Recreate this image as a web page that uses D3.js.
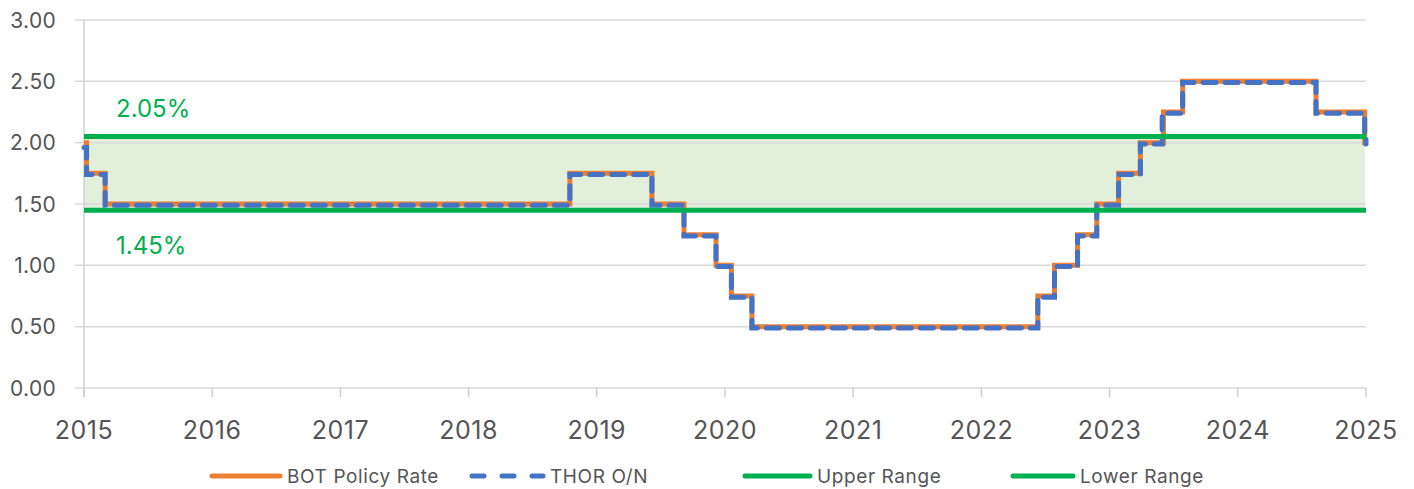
<!DOCTYPE html>
<html>
<head>
<meta charset="utf-8">
<script src="https://cdn.jsdelivr.net/npm/d3@7"></script>
<style>
  body { margin: 0; background: #fff; }
  svg { display: block; font-family: Inter, "Noto Sans", sans-serif; }
</style>
</head>
<body>
<svg id="chart" width="1414" height="489"></svg>
<script>
// step dates (decimal years), rate in %
const policyDates = [2015.0, 2015.02, 2015.165, 2018.79, 2019.43, 2019.68, 2019.93, 2020.05, 2020.21, 2022.44, 2022.57, 2022.75, 2022.90, 2023.07, 2023.24, 2023.42, 2023.57, 2024.61, 2024.99, 2025.0]
const policyRates = [2.00, 1.75, 1.50, 1.75, 1.50, 1.25, 1.00, 0.75, 0.50, 0.75, 1.00, 1.25, 1.50, 1.75, 2.00, 2.25, 2.50, 2.25, 2.00, 2.00]
const thorDates = [2015.0, 2015.02, 2015.165, 2018.79, 2019.43, 2019.68, 2019.93, 2020.05, 2020.21, 2022.44, 2022.57, 2022.75, 2022.90, 2023.07, 2023.24, 2023.41, 2023.57, 2024.61, 2024.99, 2025.0]
const thorRates = [1.96, 1.74, 1.49, 1.74, 1.49, 1.24, 0.99, 0.74, 0.49, 0.74, 0.99, 1.24, 1.49, 1.74, 1.99, 2.24, 2.49, 2.24, 2.05, 1.99]
const upperRange = 2.05
const lowerRange = 1.45
const yTicks = [0, 0.5, 1, 1.5, 2, 2.5, 3]
const yearTicks = [2015, 2016, 2017, 2018, 2019, 2020, 2021, 2022, 2023, 2024, 2025]
const legendNames = ['BOT Policy Rate', 'THOR O/N', 'Upper Range', 'Lower Range']

const orange = '#ed7d31', blue = '#4472c4', green = '#00b050'

const svg = d3.select('#chart')
const x = d3.scaleLinear().domain([2015, 2025]).range([84, 1366])
const y = d3.scaleLinear().domain([0, 3]).range([388, 20])

// shaded band between the range lines
svg.append('rect')
    .attr('x', x(2015)).attr('width', x(2025) - x(2015) - 1)
    .attr('y', y(upperRange)).attr('height', y(lowerRange) - y(upperRange))
    .attr('fill', '#e2efda')

// gridlines
svg.append('g')
    .selectAll('line')
    .data(yTicks)
    .join('line')
    .attr('x1', 75).attr('x2', x(2025))
    .attr('y1', d => y(d)).attr('y2', d => y(d))
    .attr('stroke', '#d9d9d9').attr('stroke-width', 1.5)

// y labels
svg.append('g')
    .selectAll('text')
    .data(yTicks)
    .join('text')
    .attr('x', 56).attr('y', d => y(d))
    .attr('dy', '0.36em')
    .attr('text-anchor', 'end')
    .attr('font-size', 21)
    .attr('letter-spacing', 0.3)
    .attr('fill', '#555')
    .text(d => d.toFixed(2))

// vertical axis + year ticks
svg.append('line')
    .attr('x1', x(2015)).attr('x2', x(2015))
    .attr('y1', y(3)).attr('y2', 397)
    .attr('stroke', '#d0d0d0').attr('stroke-width', 1.5)
svg.append('g')
    .selectAll('line')
    .data(yearTicks)
    .join('line')
    .attr('x1', d => x(d)).attr('x2', d => x(d))
    .attr('y1', y(0)).attr('y2', 397)
    .attr('stroke', '#d0d0d0').attr('stroke-width', 1.5)
svg.append('g')
    .selectAll('text')
    .data(yearTicks)
    .join('text')
    .attr('x', d => x(d)).attr('y', 430)
    .attr('dy', '0.36em')
    .attr('text-anchor', 'middle')
    .attr('font-size', 25)
    .attr('letter-spacing', 0.5)
    .attr('fill', '#555')
    .text(d => d)

const stepLine = d3.line()
    .x(d => x(d[0]))
    .y(d => y(d[1]))
    .curve(d3.curveStepAfter)

svg.append('path')
    .datum(d3.zip(policyDates, policyRates))
    .attr('d', stepLine)
    .attr('fill', 'none')
    .attr('stroke', orange).attr('stroke-width', 5)

svg.append('path')
    .datum(d3.zip(thorDates, thorRates))
    .attr('d', stepLine)
    .attr('fill', 'none')
    .attr('stroke', blue).attr('stroke-width', 5)
    .attr('stroke-dasharray', '13,9')
    .attr('stroke-linecap', 'round')

// range lines
svg.append('g')
    .selectAll('line')
    .data([upperRange, lowerRange])
    .join('line')
    .attr('x1', x(2015)).attr('x2', x(2025))
    .attr('y1', d => y(d)).attr('y2', d => y(d))
    .attr('stroke', green).attr('stroke-width', 5)

svg.append('g')
    .selectAll('text')
    .data([[upperRange, 108], [lowerRange, 245]])
    .join('text')
    .attr('x', 116).attr('y', d => d[1])
    .attr('dy', '0.36em')
    .attr('font-size', 24)
    .attr('fill', green)
    .text(d => d[0].toFixed(2) + '%')

// legend
const legendX = [210, 470, 743, 1011]
const legendLen = [72, 75, 69, 64]
const legendColors = [orange, blue, green, green]
const lg = svg.append('g')
    .selectAll('g')
    .data(legendNames)
    .join('g')
lg.append('line')
    .attr('x1', (d, i) => legendX[i] + 2)
    .attr('x2', (d, i) => legendX[i] + legendLen[i] - 2)
    .attr('y1', 476).attr('y2', 476)
    .attr('stroke', (d, i) => legendColors[i])
    .attr('stroke-width', 5)
    .attr('stroke-linecap', 'round')
    .attr('stroke-dasharray', (d, i) => i == 1 ? '12,18' : null)
lg.append('text')
    .attr('x', (d, i) => legendX[i] + legendLen[i] + 5)
    .attr('y', 476)
    .attr('dy', '0.36em')
    .attr('font-size', 19)
    .attr('letter-spacing', 0.6)
    .attr('fill', '#555')
    .text(d => d)
</script>
</body>
</html>
